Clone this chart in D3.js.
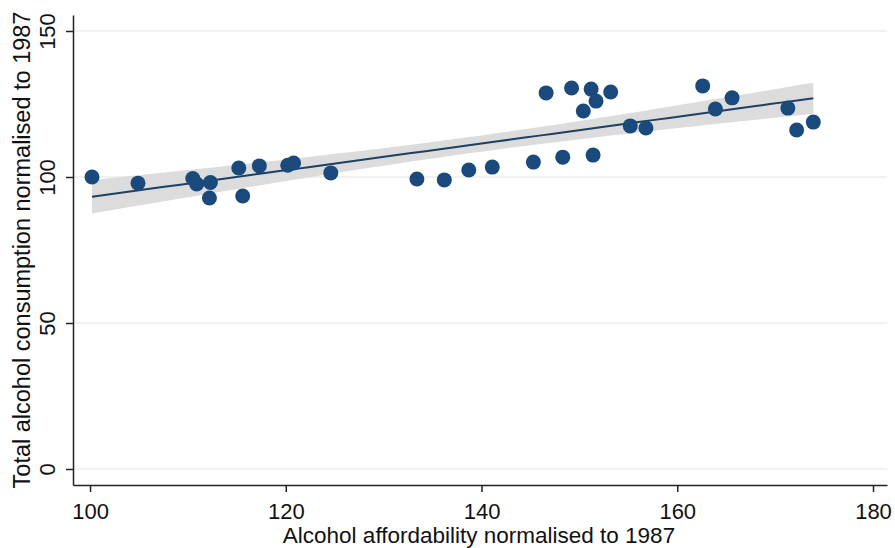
<!DOCTYPE html>
<html>
<head>
<meta charset="utf-8">
<script src="https://cdn.jsdelivr.net/npm/d3@7"></script>
<style>
  body { margin: 0; background: #fff; }
  svg { display: block; font-family: "Liberation Sans", Arial, sans-serif; }
</style>
</head>
<body>
<svg id="chart" width="895" height="548"></svg>
<script>
// affordability (x) and consumption (y), both normalised to 1987
const affordability = [100.2, 104.9, 110.5, 110.9, 112.2, 112.3, 115.2, 115.6, 117.3, 120.2, 120.8,
  124.6, 133.4, 136.2, 138.7, 141.1, 145.3, 146.6, 148.3, 149.2, 150.4, 151.2, 151.4, 151.7,
  153.2, 155.2, 156.8, 162.6, 163.9, 165.6, 171.3, 172.2, 173.9];
const consumption = [100, 97.9, 99.5, 97.6, 92.8, 98.1, 103.1, 93.5, 103.8, 104.0, 104.8,
  101.4, 99.3, 99.0, 102.4, 103.4, 105.1, 128.8, 106.8, 130.5, 122.6, 130.1, 107.5, 126.0,
  129.1, 117.5, 116.8, 131.2, 123.3, 127.1, 123.6, 116.1, 118.8];
const xTicks = [100, 120, 140, 160, 180];
const yTicks = [0, 50, 100, 150];

const svg = d3.select('#chart');
const mLeft = 73, mRight = 887, mTop = 15, mBottom = 485;

const x = d3.scaleLinear().domain([98.26, 181.43]).range([mLeft, mRight]);
const y = d3.scaleLinear().domain([-5.48, 155.48]).range([mBottom, mTop]);

// linear fit with 95% confidence band
const n = affordability.length;
const mx = d3.mean(affordability), my = d3.mean(consumption);
let sxx = 0, sxy = 0;
affordability.forEach((v, i) => { sxx += (v - mx) ** 2; sxy += (v - mx) * (consumption[i] - my); });
const b = sxy / sxx, a = my - b * mx;
let sse = 0;
affordability.forEach((v, i) => { sse += (consumption[i] - a - b * v) ** 2; });
const s = Math.sqrt(sse / (n - 2));
const tcrit = 2.04;
const [x0, x1] = d3.extent(affordability);
const fitPts = d3.range(0, 51).map(k => {
  const xv = x0 + (x1 - x0) * k / 50;
  const se = s * Math.sqrt(1 / n + (xv - mx) ** 2 / sxx);
  const yv = a + b * xv;
  return { x: xv, y: yv, lo: yv - tcrit * se, hi: yv + tcrit * se };
});

// gridlines
svg.append('g')
  .selectAll('line')
  .data(yTicks)
  .enter()
  .append('line')
  .attr('x1', mLeft).attr('x2', mRight)
  .attr('y1', d => y(d)).attr('y2', d => y(d))
  .attr('stroke', '#ececec')
  .attr('stroke-width', 1.5);

svg.append('path')
  .datum(fitPts)
  .attr('fill', '#dcdcdc')
  .attr('d', d3.area().x(d => x(d.x)).y0(d => y(d.lo)).y1(d => y(d.hi)));

svg.append('path')
  .datum(fitPts)
  .attr('fill', 'none')
  .attr('stroke', '#1f3f63')
  .attr('stroke-width', 2)
  .attr('d', d3.line().x(d => x(d.x)).y(d => y(d.y)));

svg.append('g')
  .selectAll('circle')
  .data(affordability)
  .enter()
  .append('circle')
  .attr('cx', d => x(d))
  .attr('cy', (d, i) => y(consumption[i]))
  .attr('r', 7.5)
  .attr('fill', '#1a4a7c');

// axes
const xAxis = svg.append('g')
  .attr('transform', `translate(0,${mBottom})`)
  .call(d3.axisBottom(x).tickValues(xTicks).tickSize(7).tickPadding(11).tickSizeOuter(0));
const yAxis = svg.append('g')
  .attr('transform', `translate(${mLeft},0)`)
  .call(d3.axisLeft(y).tickValues(yTicks).tickSize(7).tickSizeOuter(0));

[xAxis, yAxis].forEach(g => {
  g.select('.domain').attr('stroke', '#222').attr('stroke-width', 1.5);
  g.selectAll('.tick line').attr('stroke', '#222').attr('stroke-width', 1.5);
  g.selectAll('text').attr('font-size', 22).attr('fill', '#111')
    .attr('font-family', '"Liberation Sans", Arial, sans-serif');
});

yAxis.selectAll('.tick text')
  .attr('x', null).attr('dy', null)
  .attr('text-anchor', 'middle')
  .attr('transform', 'translate(-18,0) rotate(-90)');

svg.append('text')
  .attr('x', 479).attr('y', 543)
  .attr('text-anchor', 'middle')
  .attr('font-size', 22.5)
  .attr('fill', '#111')
  .text('Alcohol affordability normalised to 1987');

svg.append('text')
  .attr('transform', 'translate(30,250) rotate(-90)')
  .attr('text-anchor', 'middle')
  .attr('font-size', 23.5)
  .attr('fill', '#111')
  .text('Total alcohol consumption normalised to 1987');
</script>
</body>
</html>
